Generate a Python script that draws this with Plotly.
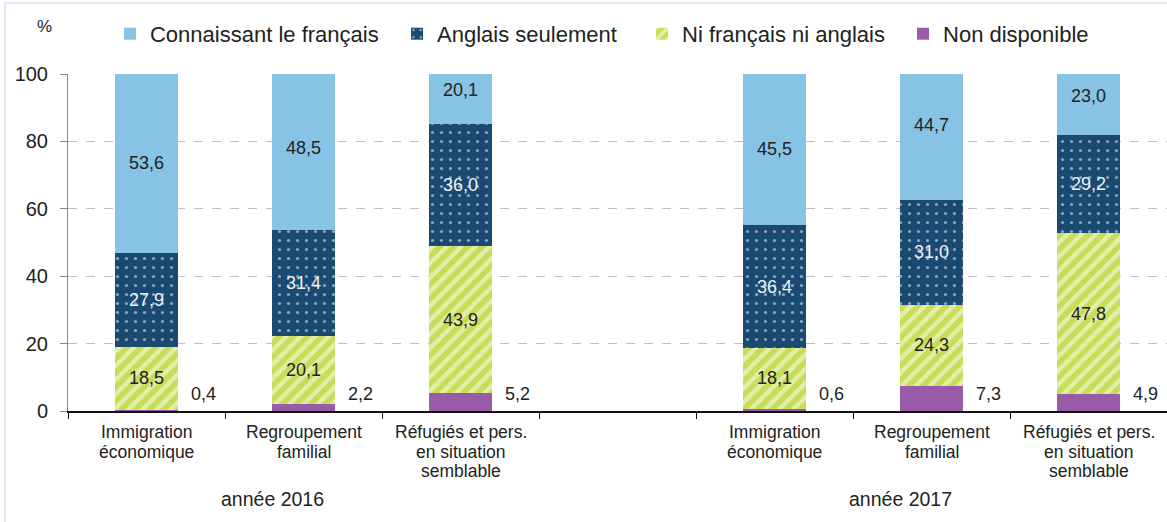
import plotly.graph_objects as go

# categories per slot (blank slot separates the two years)
categories = [
    "Immigration<br>économique", "Regroupement<br>familial", "Réfugiés et pers.<br>en situation<br>semblable",
    "",
    "Immigration<br>économique", "Regroupement<br>familial", "Réfugiés et pers.<br>en situation<br>semblable",
]
years = ["année 2016", "année 2017"]

# values in %, None for the empty slot
non_disponible = [0.4, 2.2, 5.2, None, 0.6, 7.3, 4.9]
ni_fr_ni_an = [18.5, 20.1, 43.9, None, 18.1, 24.3, 47.8]
anglais = [27.9, 31.4, 36.0, None, 36.4, 31.0, 29.2]
francais = [53.6, 48.5, 20.1, None, 45.5, 44.7, 23.0]

yticks = [0, 20, 40, 60, 80, 100]

FONT = "Liberation Sans, Arial, sans-serif"


def fmt(v):
    return "" if v is None else f"{v:.1f}".replace(".", ",")


x = list(range(len(categories)))

fig = go.Figure()

fig.add_trace(go.Bar(
    x=x, y=non_disponible, name="Non disponible", legend="legend4",
    marker=dict(color="#9a5ca8", line=dict(width=0)),
))
fig.add_trace(go.Bar(
    x=x, y=ni_fr_ni_an, name="Ni français ni anglais", legend="legend3",
    text=[fmt(v) for v in ni_fr_ni_an],
    textfont=dict(color="#222222"),
    marker=dict(color="#c6dd55", line=dict(width=0),
                pattern=dict(shape="/", fgcolor="white", bgcolor="#c6dd55",
                             size=10, solidity=0.45, fillmode="overlay")),
))
fig.add_trace(go.Bar(
    x=x, y=anglais, name="Anglais seulement", legend="legend2",
    text=[fmt(v) for v in anglais],
    textfont=dict(color="#eef3f7"),
    marker=dict(color="#1a4a72", line=dict(width=0),
                pattern=dict(shape=".", fgcolor="white", bgcolor="#1a4a72",
                             size=9, solidity=0.1, fillmode="overlay")),
))
fig.add_trace(go.Bar(
    x=x, y=francais, name="Connaissant le français", legend="legend",
    text=[fmt(v) for v in francais],
    textfont=dict(color="#222222"),
    marker=dict(color="#86c3e4", line=dict(width=0)),
))

fig.update_traces(textposition="inside", insidetextanchor="middle",
                  constraintext="none", textangle=0,
                  insidetextfont=dict(size=18, family=FONT))

annotations = []

# labels of "Non disponible" drawn to the right of each bar
for i, v in enumerate(non_disponible):
    if v is None:
        continue
    annotations.append(dict(x=i, y=0, xref="x", yref="y", text=fmt(v),
                            showarrow=False, xshift=57, yanchor="bottom", yshift=5,
                            font=dict(size=18, family=FONT, color="#222222")))

# category labels, one line at a time for tight line spacing
for i, label in enumerate(categories):
    for j, line in enumerate(label.split("<br>")):
        if not line:
            continue
        annotations.append(dict(x=i, y=0, xref="x", yref="paper", text=line,
                                showarrow=False, yanchor="middle", yshift=-21 - j * 19.5,
                                font=dict(size=17.5, family=FONT, color="#222222")))

# year labels
for xpos, year in zip([0.8, 4.8], years):
    annotations.append(dict(x=xpos, y=0, xref="x", yref="paper", text=year,
                            showarrow=False, yanchor="middle", yshift=-88,
                            font=dict(size=19.5, family=FONT, color="#222222")))

annotations.append(dict(x=-0.030, y=1.175, xref="paper", yref="paper", text="%",
                        showarrow=False, font=dict(size=17, family=FONT, color="#222222")))

# one single-entry legend per series, placed along the top like the original
legend_style = dict(orientation="h", xanchor="left", y=1.119, yanchor="middle",
                    font=dict(size=22, family=FONT, color="#222222"),
                    itemwidth=30, bgcolor="rgba(0,0,0,0)")

fig.update_layout(
    width=1167, height=522,
    margin=dict(l=68, r=0, t=74, b=111, autoexpand=False),
    paper_bgcolor="white", plot_bgcolor="white",
    barmode="stack", bargap=0.6,
    font=dict(family=FONT, color="#222222"),
    showlegend=True,
    legend=dict(x=0.0382, **legend_style),
    legend2=dict(x=0.2994, **legend_style),
    legend3=dict(x=0.5223, **legend_style),
    legend4=dict(x=0.7598, **legend_style),
    annotations=annotations,
    shapes=[dict(type="rect", xref="paper", yref="paper",
                 x0=-0.0573, x1=1.02, y0=-0.338, y1=1.2107,
                 line=dict(color="#d3e2ef", width=1.5), layer="below")],
    xaxis=dict(range=[-0.5, 6.5], showticklabels=False, ticks="",
               showline=True, linecolor="#111111", linewidth=1.5,
               showgrid=False, zeroline=False, fixedrange=True,
               minor=dict(tickmode="array", tickvals=[i - 0.5 for i in range(len(categories) + 1)],
                          ticks="outside", ticklen=6, tickcolor="#111111", tickwidth=1.2,
                          showgrid=False)),
    yaxis=dict(range=[0, 100], tickvals=yticks, ticks="outside", ticklen=7,
               tickcolor="#888888", ticklabelstandoff=8,
               tickfont=dict(size=20, family=FONT, color="#222222"),
               showline=True, linecolor="#888888", linewidth=1,
               showgrid=True, gridcolor="#cbb9cb", griddash="dash", gridwidth=1,
               zeroline=False, fixedrange=True),
)

# drop the browser's default 8px body margin so the figure fills the window
fig.write_html("out.html", config={"displayModeBar": False},
               post_script="document.body.style.margin='0';")
